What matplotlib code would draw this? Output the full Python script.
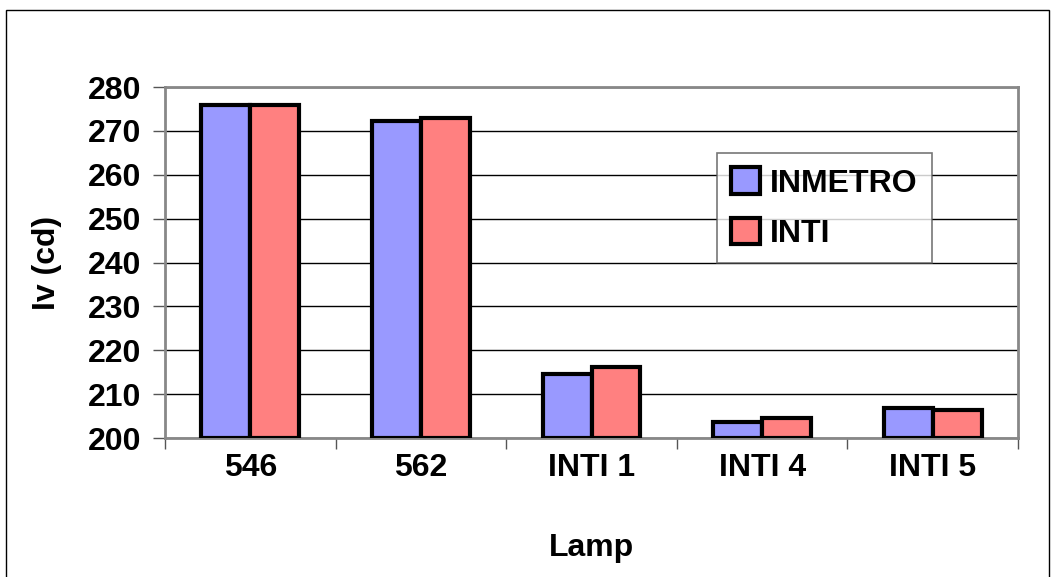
import matplotlib
matplotlib.use("Agg")
import matplotlib.pyplot as plt
import numpy as np
from matplotlib.patches import Rectangle

lamps = ["546", "562", "INTI 1", "INTI 4", "INTI 5"]
inmetro = [276.0, 272.2, 214.7, 203.7, 206.8]
inti = [276.0, 272.9, 216.2, 204.5, 206.4]

plt.rcParams['font.family'] = ['Liberation Sans', 'DejaVu Sans']
plt.rcParams['font.weight'] = 'bold'

fs = 23

fig = plt.figure(figsize=(10.53, 5.77), dpi=100)
ax = fig.add_axes([0.1567, 0.2409, 0.8101, 0.6083])

x = np.arange(len(lamps))
w = 0.287
ax.bar(x - w/2, np.array(inmetro) - 200, w, bottom=200, color="#9999FF",
       edgecolor="black", linewidth=3, label="INMETRO", zorder=3)
ax.bar(x + w/2, np.array(inti) - 200, w, bottom=200, color="#FF8080",
       edgecolor="black", linewidth=3, label="INTI", zorder=3)

ax.set_xlim(-0.5, len(lamps) - 0.5)
ax.set_ylim(200, 280)
ax.set_yticks(np.arange(200, 281, 10))
ax.yaxis.grid(True, color="black", linewidth=1, zorder=0)
ax.set_xticks(np.arange(-0.5, len(lamps), 1.0))
ax.set_xticklabels([])
ax.set_xticks(x, minor=True)
ax.set_xticklabels(lamps, minor=True)
ax.tick_params(axis="x", which="major", length=8, width=1, color="#555555")
ax.tick_params(axis="x", which="minor", length=0, pad=11, labelsize=fs)
ax.tick_params(axis="y", length=9, width=1, labelsize=fs, pad=8, color="#555555")
for s in ax.spines.values():
    s.set_color("#888888")
    s.set_linewidth(2)

ax.set_xlabel("Lamp", fontsize=fs, fontweight="bold", labelpad=36)
ax.set_ylabel("Iv (cd)", fontsize=fs, fontweight="bold", labelpad=19)

leg = ax.legend(loc="upper left", bbox_to_anchor=(0.647, 0.812), fontsize=fs,
                frameon=True, fancybox=False, edgecolor="#555555",
                handlelength=0.9, handleheight=0.9, handletextpad=0.3,
                borderpad=0.45, labelspacing=0.6, borderaxespad=0)
leg.get_frame().set_linewidth(1.2)
for t in leg.get_texts():
    t.set_fontweight("bold")

fig.patches.append(Rectangle((0.006, -0.01), 0.99, 0.993, transform=fig.transFigure,
                             fill=False, edgecolor="black", linewidth=1))

fig.savefig("out.png", dpi=100)
